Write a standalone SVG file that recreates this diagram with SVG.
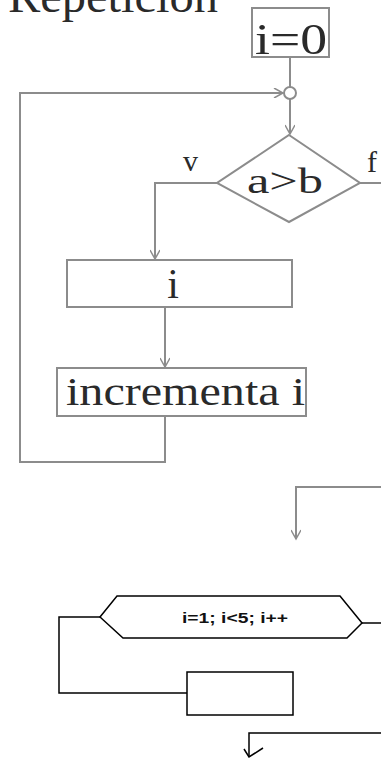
<svg xmlns="http://www.w3.org/2000/svg" width="381" height="761" viewBox="0 0 381 761">
<style>
.g{fill:none;stroke:#8c8c8c;stroke-width:2}
.k{fill:none;stroke:#000;stroke-width:1.5}
.gn{fill:#fff;stroke:#8c8c8c;stroke-width:2}
.kn{fill:#fff;stroke:#000;stroke-width:1.5}
.t{font-family:"Liberation Serif",serif;fill:#2a2a2a}
.s{font-family:"Liberation Sans",Arial,sans-serif;font-weight:bold;font-size:15px;fill:#111}
</style>
<defs>
<marker id="ag" markerWidth="12" markerHeight="10" refX="10" refY="5" orient="auto" markerUnits="userSpaceOnUse">
<path d="M1,0 L10,5 L1,10" fill="none" stroke="#8c8c8c" stroke-width="1.5"/>
</marker>
</defs>
<text class="t" x="8" y="12" font-size="46" textLength="210" lengthAdjust="spacingAndGlyphs">Repetición</text>
<g id="connectors">
<path class="g" d="M290,57 V87"/>
<path class="g" d="M290,99 V134" marker-end="url(#ag)"/>
<path class="g" d="M165,415 V462 H20 V93 H283" marker-end="url(#ag)"/>
<path class="g" d="M217,183 H155 V259" marker-end="url(#ag)"/>
<path class="g" d="M360,183 H381"/>
<path class="g" d="M165,307 V367" marker-end="url(#ag)"/>
<path class="g" d="M381,487 H296 V539" marker-end="url(#ag)"/>
<path class="k" d="M362,623 H381"/>
<path class="k" d="M100,617 H59 V693 H187"/>
<path class="k" d="M381,733 H249 V757"/>
<path class="k" d="M244,749 L249,757 L263,748"/>
</g>
<g id="n_init">
<rect class="gn" x="252" y="8" width="77" height="49"/>
<text class="t" x="255" y="54" font-size="44" textLength="72" lengthAdjust="spacingAndGlyphs">i=0</text>
</g>
<g id="n_join">
<circle class="gn" cx="290" cy="93" r="6"/>
</g>
<g id="n_cond">
<polygon class="gn" points="289,135 360,183 289,222 217,183"/>
<text class="t" x="247" y="193" font-size="36" textLength="76" lengthAdjust="spacingAndGlyphs">a&gt;b</text>
<text class="t" x="183" y="171" font-size="30">v</text>
<text class="t" x="367" y="172" font-size="30">f</text>
</g>
<g id="n_body">
<rect class="gn" x="67" y="260" width="225" height="47"/>
<text class="t" x="173" y="298" font-size="42" text-anchor="middle">i</text>
</g>
<g id="n_inc">
<rect class="gn" x="57" y="368" width="249" height="48"/>
<text class="t" x="66" y="405" font-size="40" textLength="239" lengthAdjust="spacingAndGlyphs">incrementa i</text>
</g>
<g id="n_for">
<polygon class="kn" points="100,617 117,596 340,596 362,623 347,638 123,638"/>
<text class="s" x="182" y="623" textLength="106" lengthAdjust="spacingAndGlyphs">i=1; i&lt;5; i++</text>
</g>
<g id="n_box">
<rect class="kn" x="187" y="672" width="106" height="43"/>
</g>
</svg>
